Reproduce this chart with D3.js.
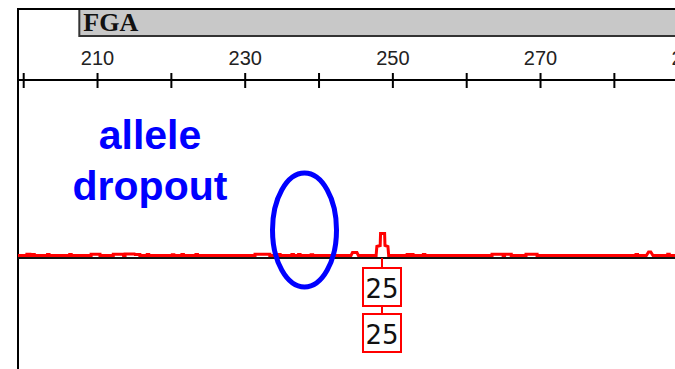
<!DOCTYPE html>
<html>
<head>
<meta charset="utf-8">
<script src="https://cdn.jsdelivr.net/npm/d3@7"></script>
<style>
  html, body { margin: 0; padding: 0; background: #fff; }
  svg { display: block; }
</style>
</head>
<body>
<svg id="chart" width="675" height="369"></svg>
<script>
// marker / bin panel
const markerName = 'FGA';
const tickValues = [200, 210, 220, 230, 240, 250, 260, 270, 280, 290];
const tickLabels = [210, 230, 250, 270, 290];

// small noise blips on the trace: [startBp, endBp, rfu]
const noiseBlips = [
  [200.5, 200.9, 12], [201.3, 201.5, 10], [203.3, 203.5, 10], [206.3, 206.5, 10],
  [209.2, 210.4, 12], [212.2, 213.6, 12], [213.8, 215.0, 15], [215.0, 215.8, 10],
  [216.8, 217.0, 10], [220.2, 220.4, 8], [221.5, 221.7, 10], [223.4, 223.6, 10],
  [231.4, 233.4, 12], [234.6, 234.8, 10], [236.4, 236.6, 10], [237.3, 237.5, 10],
  [239.0, 239.2, 8], [252.0, 252.2, 10], [252.6, 252.8, 10], [254.2, 254.4, 10],
  [263.5, 265.0, 12], [265.2, 266.1, 12], [268.1, 269.6, 12], [283.0, 283.2, 10],
  [287.3, 287.5, 12]
];

// shaped features (bp, rfu)
const hump1 = [[244.4, 0], [244.6, 30], [245.2, 30], [245.4, 0]];
const allelePeak = [[247.8, 0], [247.9, 90], [248.35, 100], [248.4, 220], [248.95, 220], [249.0, 100], [249.4, 90], [249.5, 0]];
const hump2 = [[284.4, 0], [284.7, 35], [285.0, 35], [285.3, 0]];

// allele calls
const callBp = [248.65];
const callLabels = [['25', '25']];

// annotation
const noteLines = ['allele', 'dropout'];
const dropoutBp = 238.1;

const W = 675, H = 369;
const frameX = 18, frameY = 9;
const axisY = 80, baseY = 258;

const svg = d3.select('#chart');

const x = d3.scaleLinear().domain([200, 290]).range([23.2, 687.7]);
const y = d3.scaleLinear().domain([0, 250]).range([255.5, 230.5]);

// marker bar
svg.append('rect')
  .attr('x', x(207.6)).attr('y', frameY)
  .attr('width', W - x(207.6) + 5).attr('height', 27)
  .attr('fill', '#c8c8c8')
  .attr('stroke', '#333').attr('stroke-width', 2);
svg.append('text')
  .attr('x', x(207.6) + 4).attr('y', 31)
  .attr('font-family', 'Liberation Serif, Times New Roman, serif')
  .attr('font-weight', 'bold')
  .attr('font-size', 26)
  .attr('fill', '#111')
  .text(markerName);

// frame
svg.append('path')
  .attr('d', `M${frameX},${H + 2} V${frameY} H${W + 2}`)
  .attr('fill', 'none').attr('stroke', '#000').attr('stroke-width', 2);

// size axis
const axis = svg.append('g')
  .attr('transform', `translate(0,${axisY})`)
  .call(d3.axisTop(x)
    .tickValues(tickValues)
    .tickSize(7)
    .tickPadding(8)
    .tickFormat(d => tickLabels.includes(d) ? d : ''));
axis.select('.domain').remove();
axis.append('line')
  .attr('x1', frameX).attr('x2', W + 2)
  .attr('stroke', '#000').attr('stroke-width', 2);
axis.selectAll('.tick line')
  .attr('y1', -7).attr('y2', 8)
  .attr('stroke', '#000').attr('stroke-width', 2);
axis.selectAll('.tick text')
  .attr('font-family', 'Liberation Sans, Arial, sans-serif')
  .attr('font-size', 20)
  .attr('fill', '#222');

// baseline
svg.append('line')
  .attr('x1', frameX).attr('x2', W + 2)
  .attr('y1', baseY).attr('y2', baseY)
  .attr('stroke', '#111').attr('stroke-width', 2);

// trace
const features = noiseBlips
  .map(([a, b, h]) => [[a, 0], [a, h], [b, h], [b, 0]])
  .concat([hump1, allelePeak, hump2])
  .sort((p, q) => p[0][0] - q[0][0]);
const tracePts = [[x.invert(frameX), 0]].concat(features.flat(), [[290, 0]]);

svg.append('path')
  .datum(tracePts)
  .attr('fill', 'none')
  .attr('stroke', '#ff0000')
  .attr('stroke-width', 3)
  .attr('d', d3.line().x(d => x(d[0])).y(d => y(d[1])));

// allele call boxes
const boxW = 38, boxGap = 8, boxTop = 268;
callBp.forEach((bp, i) => {
  const cx = Math.round(x(bp));
  const g = svg.append('g');
  g.append('line')
    .attr('x1', cx).attr('x2', cx)
    .attr('y1', baseY).attr('y2', boxTop + callLabels[i].length * (boxW + boxGap) - boxGap - boxW)
    .attr('stroke', '#ff0000').attr('stroke-width', 2);
  callLabels[i].forEach((lab, j) => {
    const top = boxTop + j * (boxW + boxGap);
    g.append('rect')
      .attr('x', cx - boxW / 2).attr('y', top)
      .attr('width', boxW).attr('height', boxW)
      .attr('fill', '#fff')
      .attr('stroke', '#ff0000').attr('stroke-width', 2);
    g.append('text')
      .attr('x', cx).attr('y', top + 30)
      .attr('text-anchor', 'middle')
      .attr('font-family', 'DejaVu Sans, sans-serif')
      .attr('font-size', 26)
      .attr('fill', '#111')
      .text(lab);
  });
});

// annotation
svg.append('ellipse')
  .attr('cx', x(dropoutBp)).attr('cy', 230)
  .attr('rx', 32).attr('ry', 57)
  .attr('fill', 'none')
  .attr('stroke', '#0000ff').attr('stroke-width', 5);

svg.append('text')
  .attr('x', 150).attr('y', 149)
  .attr('text-anchor', 'middle')
  .attr('font-family', 'Liberation Sans, Arial, sans-serif')
  .attr('font-weight', 'bold')
  .attr('font-size', 41)
  .attr('fill', '#0000ff')
  .selectAll('tspan')
  .data(noteLines)
  .join('tspan')
  .attr('x', 150)
  .attr('dy', (d, i) => i ? 51 : 0)
  .text(d => d);
</script>
</body>
</html>
